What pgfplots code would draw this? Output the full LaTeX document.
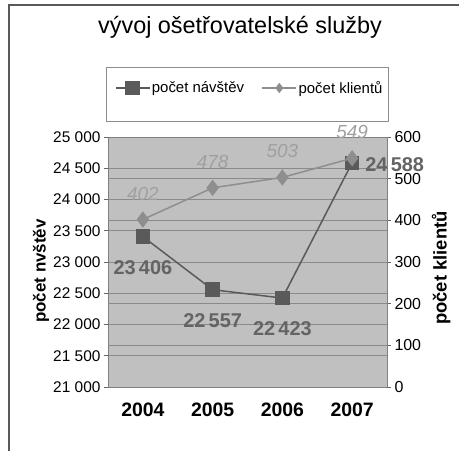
\documentclass[border=0pt]{standalone}
\usepackage{fontspec}
\setmainfont{Liberation Sans}
\usepackage{pgfplots}
\pgfplotsset{compat=1.18}
\definecolor{bgg}{HTML}{C0C0C0}
\definecolor{visc}{HTML}{5A5A5A}
\definecolor{vislab}{HTML}{646464}
\definecolor{klc}{HTML}{8E8E8E}
\definecolor{kllab}{HTML}{A0A0A0}
\definecolor{gridc}{HTML}{8A8A8A}
\begin{document}
\begin{tikzpicture}
\path[use as bounding box] (0,0) rectangle (459bp,-451bp);
\draw[line width=1.6bp, color=black!65] (459bp,-5bp) -- (9bp,-5bp) -- (9bp,-451bp);
\draw[black!45, line width=0.8bp] (106bp,-67bp) rectangle (388bp,-121bp);
\begin{axis}[
  scale only axis, width=279bp, height=250bp,
  at={(108bp,-387bp)}, anchor=south west,
  xmin=-0.5, xmax=3.5, ymin=21000, ymax=25000,
  scaled y ticks=false,
  axis background/.style={fill=bgg},
  axis line style={black!50, line width=0.8bp},
  xtick={0,1,2,3}, xticklabels={2004,2005,2006,2007},
  xtick style={draw=none},
  xticklabel style={font=\fontsize{19.5}{22}\selectfont\bfseries, yshift=-8bp},
  ytick={21000,21500,22000,22500,23000,23500,24000,24500,25000},
  yticklabels={21~000,21~500,22~000,22~500,23~000,23~500,24~000,24~500,25~000},
  ytick pos=left, tick align=outside, major tick length=4bp,
  ytick style={black!60, line width=0.8bp},
  yticklabel style={font=\fontsize{15.5}{17}\selectfont},
  ymajorgrids, grid style={gridc, line width=0.8bp},
  extra y ticks={21666.67,22333.33,23666.67,24333.33},
  extra y tick labels={},
  extra y tick style={major tick length=0pt},
  ylabel={počet nvštěv},
  ylabel style={at={(axis description cs:-0.240,0.464)}, anchor=center, font=\fontsize{17}{19}\selectfont\bfseries},
  title={vývoj ošetřovatelské služby},
  title style={at={(axis description cs:0.473,1.416)}, anchor=center, font=\fontsize{23.5}{26}\selectfont},
  clip=false,
  legend columns=2,
  legend style={at={(axis description cs:0.507,1.196)}, anchor=center, draw=none, fill=none, font=\fontsize{15}{17}\selectfont,
    nodes={inner xsep=1.5bp}, /tikz/every even column/.append style={column sep=16bp}},
  legend image code/.code={\draw[mark repeat=2,mark phase=2,#1] plot coordinates {(0bp,0bp) (17bp,0bp) (34bp,0bp)};},
]
\addplot[visc, line width=1.5bp, mark=square*, mark size=6.5bp, mark options={fill=visc, draw=visc}] coordinates {(0,23406) (1,22557) (2,22423) (3,24588)};
\addlegendentry{počet návštěv}
\addlegendimage{klc, line width=1.5bp, mark=diamond*, mark size=4bp, mark options={fill=klc}}
\addlegendentry{počet klientů}
\addplot[draw=none, nodes near coords, point meta=explicit symbolic, forget plot,
  nodes near coords style={font=\fontsize{20}{22}\selectfont\bfseries, text=vislab, anchor=center, inner sep=0pt, yshift=-31bp}]
  coordinates {(0,23406) [23\,406] (1,22557) [22\,557] (2,22423) [22\,423]};
\addplot[draw=none, nodes near coords, point meta=explicit symbolic, forget plot,
  nodes near coords style={font=\fontsize{20}{22}\selectfont\bfseries, text=vislab, anchor=west, inner sep=0pt, xshift=13bp, yshift=-2bp}]
  coordinates {(3,24588) [24\,588]};
\end{axis}
\begin{axis}[
  scale only axis, width=279bp, height=250bp,
  at={(108bp,-387bp)}, anchor=south west,
  xmin=-0.5, xmax=3.5, ymin=0, ymax=600,
  axis x line=none, axis y line*=right,
  axis line style={black!50, line width=0.8bp},
  ytick={0,100,200,300,400,500,600}, yticklabels={0,100,200,300,400,500,600},
  tick align=outside, major tick length=4bp,
  ytick style={black!60, line width=0.8bp},
  yticklabel style={font=\fontsize{16}{18}\selectfont},
  ylabel={počet klientů},
  ylabel style={at={(axis description cs:1.194,0.476)}, anchor=center, font=\fontsize{18.5}{20}\selectfont\bfseries},
  clip=false,
]
\addplot[klc, line width=1.5bp, mark=diamond*, mark size=7bp, mark options={fill=klc, draw=klc}] coordinates {(0,402) (1,478) (2,503) (3,549)};
\addplot[draw=none, nodes near coords, point meta=explicit symbolic,
  nodes near coords style={font=\fontsize{19}{21}\selectfont\itshape, text=kllab, anchor=center, inner sep=0pt, yshift=26bp}]
  coordinates {(0,402) [402] (1,478) [478] (2,503) [503] (3,549) [549]};
\end{axis}
\end{tikzpicture}
\end{document}
